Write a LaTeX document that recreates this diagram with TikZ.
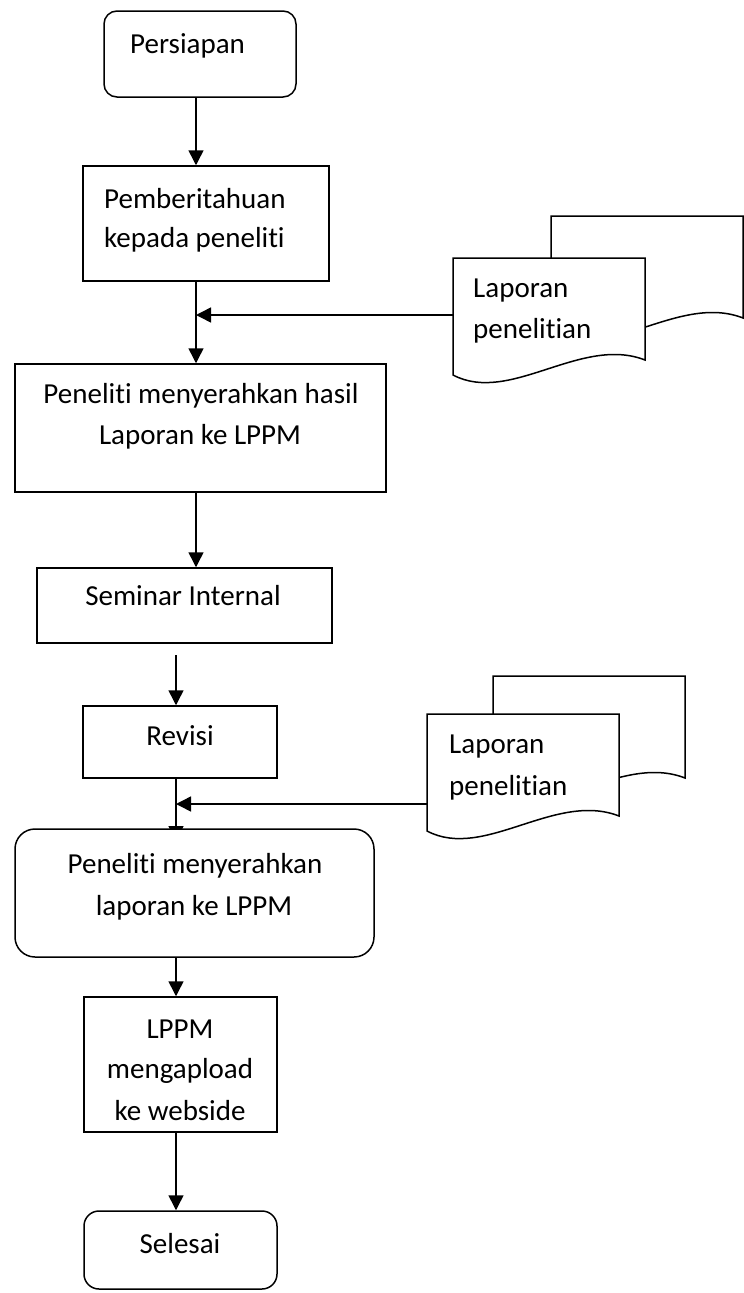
\documentclass[tikz,border=0pt]{standalone}
\usepackage{fontspec}
\setmainfont{Carlito}[Ligatures=CommonOff]
\usetikzlibrary{arrows.meta,backgrounds}

\tikzset{
  stepbox/.style={draw, line width=1.5pt, fill=white, inner sep=0pt},
  roundbox/.style={stepbox, rounded corners=#1},
  label/.style={inner sep=0pt, font=\fontsize{29}{36}\selectfont},
  arr/.style={line width=1.5pt, -{Triangle[width=15pt,length=15pt]}},
  docpage/.pic={
    \draw[line width=1.5pt, fill=white]
      (0,0) -- (192,0) -- (192,102)
      .. controls (128,77) and (57,147) .. (0,117) -- cycle;
  }
}

\begin{document}
\begin{tikzpicture}[x=1pt, y=-1pt]
\useasboundingbox (0,0) rectangle (744,1293);

% columns of the main flow
\coordinate (colA) at (196,0);
\coordinate (colB) at (176,0);

% process boxes
\node[roundbox=13pt, minimum width=192pt, minimum height=86pt] (start) at (200,54) {};
\node[stepbox, minimum width=246pt, minimum height=115pt] (notify) at (206,223.5) {};
\node[stepbox, minimum width=371pt, minimum height=128pt] (submit) at (200.5,428) {};
\node[stepbox, minimum width=295pt, minimum height=75pt] (seminar) at (184.5,605.5) {};
\node[stepbox, minimum width=194pt, minimum height=72pt] (revisi) at (180,742) {};
\node[stepbox, minimum width=193pt, minimum height=135pt] (upload) at (180.5,1064.5) {};
\node[roundbox=15pt, minimum width=193pt, minimum height=78pt] (finish) at (180.5,1250) {};

% report documents
\pic at (551,216) {docpage};
\pic at (453,258) {docpage};
\coordinate (doc1) at (453,315);
\pic at (493,676) {docpage};
\pic at (427,714) {docpage};
\coordinate (doc2) at (427,804);

% connectors
\draw[arr] (start.south -| colA) -- (notify.north -| colA);
\draw[arr] (notify.south -| colA) -- (submit.north -| colA);
\draw[arr] (doc1) -- (doc1 -| colA);
\draw[arr] (submit.south -| colA) -- (seminar.north -| colA);
\coordinate (gap) at (176,655);
\draw[arr] (gap) -- (revisi.north -| gap);
\coordinate (tipB) at (176,841);
\begin{pgfonlayer}{background}
\draw[arr] (revisi.south -| colB) -- (tipB);
\end{pgfonlayer}
\draw[arr] (doc2) -- (doc2 -| colB);

\node[roundbox=20pt, minimum width=359pt, minimum height=128pt] (final) at (194.5,893) {};
\draw[arr] (final.south -| colB) -- (upload.north -| colB);
\draw[arr] (upload.south -| colB) -- (finish.north -| colB);

% texts
\node[label, anchor=base west] (t1) at (130,53) {Persiapan};
\node[label, anchor=base west] (t2a) at (104,208) {Pemberitahuan};
\node[label, anchor=base west] (t2b) at (104,247) {kepada peneliti};
\node[label, anchor=base] (t3a) at (201,403) {Peneliti menyerahkan hasil};
\node[label, anchor=base] (t3b) at (200,444) {Laporan ke LPPM};
\node[label, anchor=base west] (d1a) at (473,297) {Laporan};
\node[label, anchor=base west] (d1b) at (473,338) {penelitian};
\node[label, anchor=base] (t4) at (183,605) {Seminar Internal};
\node[label, anchor=base] (t5) at (180,745) {Revisi};
\node[label, anchor=base west] (d2a) at (449,753) {Laporan};
\node[label, anchor=base west] (d2b) at (449,795) {penelitian};
\node[label, anchor=base] (t6a) at (195,873) {Peneliti menyerahkan};
\node[label, anchor=base] (t6b) at (194,915) {laporan ke LPPM};
\node[label, anchor=base] (t7a) at (180,1038) {LPPM};
\node[label, anchor=base] (t7b) at (180,1078) {mengapload};
\node[label, anchor=base] (t7c) at (180,1120) {ke webside};
\node[label, anchor=base] (t8) at (180,1253) {Selesai};
\end{tikzpicture}
\end{document}
